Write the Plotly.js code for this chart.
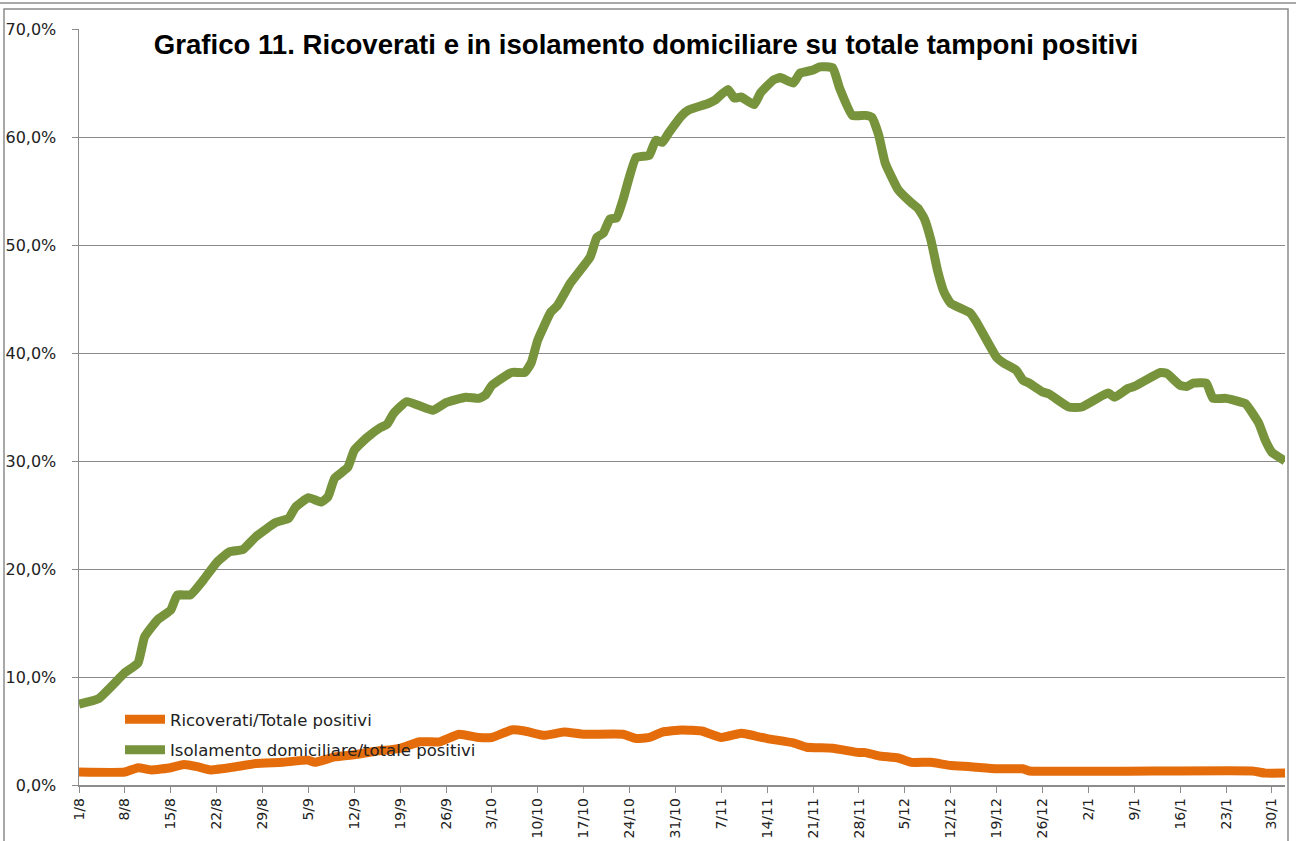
<!DOCTYPE html>
<html>
<head>
<meta charset="utf-8">
<script src="https://cdn.plot.ly/plotly-3.0.1.min.js"></script>
<style>
  html, body { margin: 0; padding: 0; background: #ffffff; }
  #chart { width: 1296px; height: 841px; }
</style>
</head>
<body>
<div id="chart"></div>
<script>
// Isolamento domiciliare / totale positivi (%)
const isoDates = [
  "2020-08-01","2020-08-04","2020-08-08","2020-08-10","2020-08-11","2020-08-13","2020-08-15","2020-08-16",
  "2020-08-18","2020-08-20","2020-08-22","2020-08-24","2020-08-26","2020-08-28","2020-08-31","2020-09-02",
  "2020-09-03","2020-09-05","2020-09-07","2020-09-08","2020-09-09","2020-09-11","2020-09-12","2020-09-14",
  "2020-09-16","2020-09-17","2020-09-18","2020-09-20","2020-09-24","2020-09-26","2020-09-29","2020-10-01",
  "2020-10-02","2020-10-03","2020-10-06","2020-10-08","2020-10-09","2020-10-10","2020-10-12","2020-10-13",
  "2020-10-15","2020-10-18","2020-10-19","2020-10-20","2020-10-21","2020-10-22","2020-10-23","2020-10-25",
  "2020-10-27","2020-10-28","2020-10-29","2020-10-30","2020-11-01","2020-11-02","2020-11-05","2020-11-06",
  "2020-11-08","2020-11-09","2020-11-10","2020-11-12","2020-11-13","2020-11-15","2020-11-16","2020-11-18",
  "2020-11-19","2020-11-21","2020-11-22","2020-11-24","2020-11-25","2020-11-27","2020-11-29","2020-11-30",
  "2020-12-01","2020-12-02","2020-12-04","2020-12-06","2020-12-07","2020-12-08","2020-12-09","2020-12-10",
  "2020-12-11","2020-12-12","2020-12-15","2020-12-16","2020-12-19","2020-12-20","2020-12-22","2020-12-23",
  "2020-12-24","2020-12-26","2020-12-27","2020-12-30","2021-01-01","2021-01-05","2021-01-06","2021-01-08",
  "2021-01-09","2021-01-13","2021-01-14","2021-01-16","2021-01-17","2021-01-18","2021-01-20","2021-01-21",
  "2021-01-23","2021-01-25","2021-01-26","2021-01-28","2021-01-29","2021-01-30","2021-02-01"
];
const isoValues = [
  7.5, 8.0, 10.4, 11.3, 13.7, 15.3, 16.2, 17.6,
  17.6, 19.0, 20.6, 21.6, 21.8, 23.0, 24.3, 24.7,
  25.7, 26.6, 26.2, 26.7, 28.4, 29.4, 31.0, 32.2,
  33.1, 33.4, 34.4, 35.5, 34.7, 35.4, 35.9, 35.8,
  36.1, 37.0, 38.2, 38.2, 39.1, 41.2, 43.8, 44.4,
  46.5, 48.9, 50.7, 51.1, 52.4, 52.5, 54.2, 58.1,
  58.3, 59.7, 59.5, 60.4, 62.0, 62.5, 63.1, 63.4,
  64.4, 63.6, 63.7, 63.0, 64.1, 65.3, 65.5, 65.0,
  65.9, 66.2, 66.5, 66.4, 64.6, 62.0, 62.0, 61.8,
  60.2, 57.6, 55.1, 53.9, 53.4, 52.4, 50.4, 47.6,
  45.6, 44.6, 43.7, 42.8, 39.6, 39.1, 38.4, 37.5,
  37.2, 36.4, 36.2, 35.0, 35.0, 36.3, 35.9, 36.7,
  36.9, 38.2, 38.1, 37.0, 36.9, 37.2, 37.2, 35.8,
  35.8, 35.5, 35.3, 33.5, 31.9, 30.8, 30.0
];

// Ricoverati / totale positivi (%)
const ricDates = [
  "2020-08-01","2020-08-08","2020-08-10","2020-08-12","2020-08-15","2020-08-17","2020-08-19","2020-08-21",
  "2020-08-25","2020-08-28","2020-09-01","2020-09-05","2020-09-06","2020-09-09","2020-09-12","2020-09-15",
  "2020-09-19","2020-09-22","2020-09-25","2020-09-28","2020-10-01","2020-10-03","2020-10-06","2020-10-08",
  "2020-10-11","2020-10-14","2020-10-17","2020-10-23","2020-10-25","2020-10-27","2020-10-29","2020-11-01",
  "2020-11-04","2020-11-07","2020-11-10","2020-11-11","2020-11-14","2020-11-18","2020-11-20","2020-11-24",
  "2020-11-28","2020-11-29","2020-12-01","2020-12-04","2020-12-06","2020-12-09","2020-12-12","2020-12-15",
  "2020-12-19","2020-12-23","2020-12-24","2021-01-27","2021-01-29","2021-02-01"
];
const ricValues = [
  1.2, 1.2, 1.6, 1.4, 1.6, 1.9, 1.7, 1.4,
  1.7, 2.0, 2.1, 2.3, 2.1, 2.6, 2.8, 3.1,
  3.4, 4.0, 4.0, 4.7, 4.4, 4.4, 5.1, 5.0,
  4.6, 4.9, 4.7, 4.7, 4.3, 4.4, 4.9, 5.1,
  5.0, 4.4, 4.8, 4.7, 4.3, 3.9, 3.5, 3.4,
  3.0, 3.0, 2.7, 2.5, 2.1, 2.1, 1.8, 1.7,
  1.5, 1.5, 1.3, 1.3, 1.1, 1.1
];

const seriesNames = ["Ricoverati/Totale positivi", "Isolamento domiciliare/totale positivi"];
const chartTitle = "Grafico 11. Ricoverati e in isolamento domiciliare su totale tamponi positivi";

const W = 1296, H = 841;
const L = 79, R = 1285, T = 29, B = 785;
const px = x => (x - L) / (R - L);
const py = y => (B - y) / (B - T);
const borderColor = "#8c8c8c";

const traces = [
  {
    x: ricDates, y: ricValues, name: seriesNames[0], type: "scatter", mode: "lines",
    legendgroup: "a",
    line: { color: "#E46C0A", width: 9, shape: "spline", smoothing: 0.4 },
    hoverinfo: "skip"
  },
  {
    x: isoDates, y: isoValues, name: seriesNames[1], type: "scatter", mode: "lines",
    legendgroup: "b",
    line: { color: "#77933C", width: 9, shape: "spline", smoothing: 0.4 },
    hoverinfo: "skip"
  }
];

const layout = {
  width: W, height: H,
  margin: { l: L, r: W - R, t: T, b: H - B, pad: 0 },
  paper_bgcolor: "#ffffff", plot_bgcolor: "#ffffff",
  separators: ",.",
  font: { family: "DejaVu Sans, sans-serif", color: "#222222" },
  title: {
    text: "<b>" + chartTitle + "</b>",
    font: { family: "Liberation Sans Narrow, Liberation Sans, Arial Narrow, sans-serif", size: 27.6, color: "#000000" },
    x: 646 / W, xanchor: "center", xref: "container",
    y: 1 - 44 / H, yanchor: "middle", yref: "container"
  },
  showlegend: true,
  legend: {
    x: px(120), xanchor: "left", y: py(702), yanchor: "top",
    bgcolor: "rgba(0,0,0,0)", borderwidth: 0,
    font: { family: "DejaVu Sans, sans-serif", size: 16.5, color: "#222222" },
    tracegroupgap: 6, itemwidth: 40
  },
  xaxis: {
    type: "date",
    range: ["2020-08-01", "2021-02-01"],
    tick0: "2020-08-01", dtick: 7 * 86400000,
    tickformat: "%-d/%-m",
    tickangle: -90,
    ticks: "outside", ticklen: 6, tickcolor: borderColor, tickwidth: 1,
    showline: true, linecolor: borderColor, linewidth: 1.5,
    showgrid: false, zeroline: false,
    tickfont: { family: "DejaVu Sans, sans-serif", size: 14, color: "#222222" },
    fixedrange: true
  },
  yaxis: {
    range: [0, 70],
    tick0: 0, dtick: 10,
    tickformat: ".1f", ticksuffix: "%",
    ticks: "outside", ticklen: 6, tickcolor: borderColor, tickwidth: 1,
    ticklabelstandoff: 12,
    showline: true, linecolor: borderColor, linewidth: 1.5,
    showgrid: true, gridcolor: "#8a8a8a", gridwidth: 1,
    zeroline: false,
    tickfont: { family: "DejaVu Sans, sans-serif", size: 16, color: "#222222" },
    fixedrange: true
  },
  shapes: [
    { type: "line", xref: "paper", yref: "paper", x0: px(0), x1: px(1296), y0: py(3), y1: py(3),
      line: { color: borderColor, width: 1.5 } },
    { type: "rect", xref: "paper", yref: "paper", x0: px(4), x1: px(1288), y0: py(9), y1: py(846),
      line: { color: borderColor, width: 1.5 }, fillcolor: "rgba(0,0,0,0)" }
  ]
};

Plotly.newPlot("chart", traces, layout, { staticPlot: true, displayModeBar: false });
</script>
</body>
</html>
